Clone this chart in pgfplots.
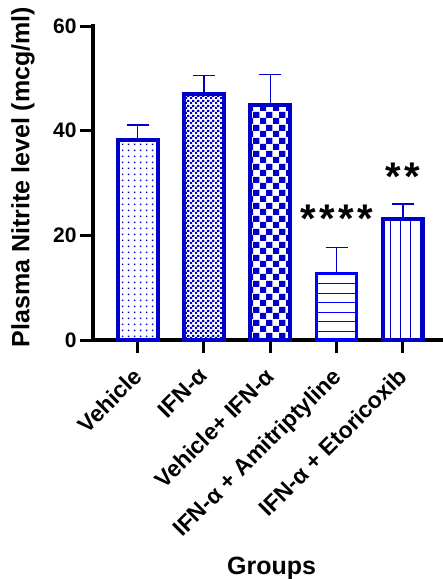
\documentclass[border=0pt]{standalone}
\usepackage{fontspec}
\setmainfont{Liberation Sans}
\usepackage{pgfplots}
\pgfplotsset{compat=1.18}
\usetikzlibrary{patterns}

\definecolor{bb}{RGB}{0,0,200}
\definecolor{bl}{RGB}{0,0,255}

\pgfdeclarepatternformonly{pdots}{\pgfpointorigin}{\pgfqpoint{6pt}{6pt}}{\pgfqpoint{6pt}{6pt}}{%
  \pgfpathrectangle{\pgfqpoint{2.2pt}{2.2pt}}{\pgfqpoint{1.7pt}{1.7pt}}\pgfusepath{fill}}
\pgfdeclarepatternformonly{pfine}{\pgfpointorigin}{\pgfqpoint{5pt}{5pt}}{\pgfqpoint{5pt}{5pt}}{%
  \pgfpathrectangle{\pgfpointorigin}{\pgfqpoint{2.5pt}{2.5pt}}%
  \pgfpathrectangle{\pgfqpoint{2.5pt}{2.5pt}}{\pgfqpoint{2.5pt}{2.5pt}}\pgfusepath{fill}}
\pgfdeclarepatternformonly{pcoarse}{\pgfpointorigin}{\pgfqpoint{13pt}{13pt}}{\pgfqpoint{13pt}{13pt}}{%
  \pgfpathrectangle{\pgfpointorigin}{\pgfqpoint{6.5pt}{6.5pt}}%
  \pgfpathrectangle{\pgfqpoint{6.5pt}{6.5pt}}{\pgfqpoint{6.5pt}{6.5pt}}\pgfusepath{fill}}
\pgfdeclarepatternformonly{phl}{\pgfqpoint{-1pt}{0pt}}{\pgfqpoint{10.5pt}{9.5pt}}{\pgfqpoint{9.5pt}{9.5pt}}{%
  \pgfpathrectangle{\pgfqpoint{-1pt}{0pt}}{\pgfqpoint{11.5pt}{1.3pt}}\pgfusepath{fill}}
\pgfdeclarepatternformonly{pvl}{\pgfqpoint{0pt}{-1pt}}{\pgfqpoint{10pt}{11pt}}{\pgfqpoint{10pt}{10pt}}{%
  \pgfpathrectangle{\pgfqpoint{0pt}{-1pt}}{\pgfqpoint{1.3pt}{12pt}}\pgfusepath{fill}}

\begin{document}
\begin{tikzpicture}
\useasboundingbox (0,0) rectangle (443pt,-579pt);
\begin{axis}[
  at={(93pt,-340pt)}, anchor=south west,
  scale only axis, width=348pt, height=314pt,
  xmin=-0.674, xmax=4.575, ymin=0, ymax=60,
  axis x line*=bottom, axis y line*=left,
  axis line style={line width=3.2pt, black, line cap=rect},
  tick style={line width=3pt, black},
  tick align=outside, major tick length=13pt,
  ytick={0,20,40,60},
  xtick={0,1,2,3,4},
  xticklabels={Vehicle, IFN-α, Vehicle+ IFN-α, IFN-α + Amitriptyline, IFN-α + Etoricoxib},
  /pgf/number format/assume math mode=true,
  yticklabel style={font=\fontsize{21}{21}\selectfont\bfseries},
  xticklabel style={font=\fontsize{23}{23}\selectfont\bfseries, xshift=-6.3pt, yshift=-13pt, rotate=45, anchor=north east, inner sep=0pt},
  ylabel={Plasma Nitrite level (mcg/ml)},
  ylabel style={font=\fontsize{25}{25}\selectfont\bfseries, at={(rel axis cs:-0.201,0.519)}, anchor=center},
  xlabel={Groups},
  xlabel style={font=\fontsize{25}{25}\selectfont\bfseries, at={(rel axis cs:0.513,-0.748)}, anchor=base},
  ybar, bar width=40pt, bar shift=0pt,
  error bars/y dir=plus, error bars/y explicit,
  clip=false,
]
\addplot[draw=bb, line width=4pt, pattern=pdots, pattern color=bb,
  error bars/error bar style={line width=1.3pt, bb},
  error bars/error mark options={rotate=90, mark size=11pt, line width=1.3pt, bb}]
  coordinates {(0,38.2) +- (0,2.9)};
\addplot[draw=bb, line width=4pt, pattern=pfine, pattern color=bb,
  error bars/error bar style={line width=1.3pt, bb},
  error bars/error mark options={rotate=90, mark size=11pt, line width=1.3pt, bb}]
  coordinates {(1,47.0) +- (0,3.5)};
\addplot[draw=bb, line width=4pt, pattern=pcoarse, pattern color=bb,
  error bars/error bar style={line width=1.3pt, bb},
  error bars/error mark options={rotate=90, mark size=11pt, line width=1.3pt, bb}]
  coordinates {(2,44.9) +- (0,5.8)};
\addplot[draw=bl, line width=3.5pt, pattern=phl, pattern color=bl,
  error bars/error bar style={line width=1.3pt, bb},
  error bars/error mark options={rotate=90, mark size=11pt, line width=1.3pt, bb}]
  coordinates {(3,12.7) +- (0,5.0)};
\addplot[draw=bb, line width=4pt, pattern=pvl, pattern color=bb,
  error bars/error bar style={line width=1.3pt, bb},
  error bars/error mark options={rotate=90, mark size=11pt, line width=1.3pt, bb}]
  coordinates {(4,23.2) +- (0,2.8)};
\node[font=\fontsize{40}{40}\selectfont\bfseries, anchor=base, inner sep=0pt] at (axis cs:3,20.5) {*\kern3.5pt*\kern3.5pt*\kern3.5pt*};
\node[font=\fontsize{40}{40}\selectfont\bfseries, anchor=base, inner sep=0pt] at (axis cs:4,28.6) {*\kern3.5pt*};
\end{axis}
\end{tikzpicture}
\end{document}
